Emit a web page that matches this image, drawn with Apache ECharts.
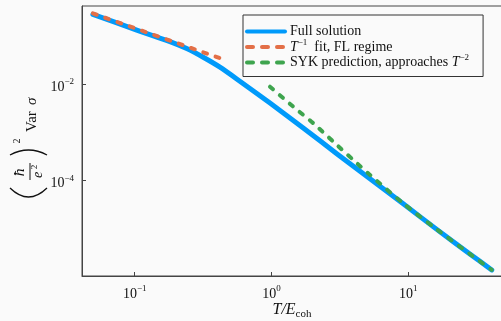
<!DOCTYPE html>
<html><head><meta charset="utf-8">
<script src="https://cdn.jsdelivr.net/npm/echarts@6/dist/echarts.min.js"></script>
<style>html,body{margin:0;padding:0;background:#fafafa}#c{width:501px;height:321px}</style>
</head><body><div id="c"></div><script>
// Data (linear units)
const fullT = [0.0495, 0.1, 0.181, 0.24, 0.317, 0.417, 0.557, 0.975, 1.706, 3.0, 5.248, 9.18, 16.14, 28.18, 40.74];
const fullV = [0.282, 0.138, 0.0766, 0.055, 0.0363, 0.0229, 0.0129, 0.00407, 0.001245, 3.63e-4, 1.096e-4, 3.31e-5, 9.77e-6, 3.02e-6, 1.41e-6];
const flT = [0.0495, 0.1, 0.2, 0.457];
const flV = [0.295, 0.146, 0.073, 0.032];
const sykT = [0.975, 1.442, 2.023, 2.831, 3.963, 5.248, 9.18, 16.14, 28.18, 40.74];
const sykV = [0.00891, 0.00343, 0.00155, 6.44e-4, 2.69e-4, 1.318e-4, 3.39e-5, 9.77e-6, 3.02e-6, 1.41e-6];
const xTicks = [0.1, 1, 10];
const yTicks = [1e-4, 1e-2];
const xRange = [0.0412, 48.4];
const yRange = [1.054e-6, 0.4207];
const names = ['Full solution', 'T^-1 fit, FL regime', 'SYK prediction, approaches T^-2'];

const lg = Math.log10;
const pairs = (T, V) => T.map((t, i) => [lg(t), lg(V[i])]);
const serif = 'Liberation Serif';
const supFmt = v => '{b|10}{s|' + String(Math.round(v)).replace('-', '\u2212') + '}';
const labelRich = {
  b: {fontFamily: serif, fontSize: 14, color: '#111'},
  s: {fontFamily: serif, fontSize: 9, color: '#111', padding: [0, 0, 11, 0]}
};
const hidden = {color: 'rgba(0,0,0,0)', borderColor: 'rgba(0,0,0,0)', borderWidth: 0, opacity: 0};

const chart = echarts.init(document.getElementById('c'), null, {renderer: 'canvas'});
chart.setOption({
  backgroundColor: '#fafafa',
  animation: false,
  grid: {left: 82, top: 6, right: -1, bottom: 45, show: true, borderColor: '#444', borderWidth: 1,
         containLabel: false, outerBoundsMode: 'none'},
  xAxis: {
    type: 'value', min: lg(xRange[0]), max: lg(xRange[1]),
    axisLine: {show: true, onZero: false, lineStyle: {color: '#444', width: 1}},
    axisTick: {show: true, inside: true, length: 4, customValues: xTicks.map(lg), lineStyle: {color: '#444'}},
    axisLabel: {customValues: xTicks.map(lg), formatter: supFmt, margin: 8, rich: labelRich},
    splitLine: {show: false},
    name: '{i|T/E}{sub|coh}', nameLocation: 'middle', nameGap: 23, nameMoveOverlap: false,
    nameTextStyle: {rich: {
      i: {fontFamily: serif, fontStyle: 'italic', fontSize: 16, color: '#111'},
      sub: {fontFamily: serif, fontSize: 11, color: '#111', padding: [10, 0, 0, 0]}
    }}
  },
  yAxis: {
    type: 'value', min: lg(yRange[0]), max: lg(yRange[1]),
    axisLine: {show: true, onZero: false, lineStyle: {color: '#444', width: 1}},
    axisTick: {show: true, inside: true, length: 4, customValues: yTicks.map(lg), lineStyle: {color: '#444'}},
    axisLabel: {customValues: yTicks.map(lg), formatter: supFmt, margin: 8, padding: [6, 0, 0, 0], rich: labelRich},
    splitLine: {show: false}
  },
  legend: {
    orient: 'vertical', left: 243, top: 15, padding: [7.5, 14, 5, 2], itemGap: -2.5,
    itemWidth: 38, itemHeight: 14, borderColor: '#333', borderWidth: 1, backgroundColor: '#fafafa',
    itemStyle: hidden,
    textStyle: {fontFamily: serif, fontSize: 14, lineHeight: 18, color: '#111', rich: {
      i: {fontFamily: serif, fontStyle: 'italic', fontSize: 14, color: '#111'},
      s: {fontFamily: serif, fontSize: 9, lineHeight: 9, color: '#111', padding: [0, 0, 9, 0]}
    }},
    formatter: n => n === names[1] ? '{i|T}{s|\u22121}  fit, FL regime'
                 : n === names[2] ? 'SYK prediction, approaches {i|T}{s|\u22122}' : n,
    data: [
      {name: names[0], itemStyle: hidden, lineStyle: {width: 4, cap: 'round'}},
      {name: names[1], itemStyle: hidden, lineStyle: {width: 4, type: [6, 9], cap: 'round'}},
      {name: names[2], itemStyle: hidden, lineStyle: {width: 4, type: [6, 9], cap: 'round'}}
    ]
  },
  series: [
    {name: names[0], type: 'line', data: pairs(fullT, fullV), symbol: 'none', smooth: 0.25, z: 1,
     color: '#009AFA', lineStyle: {color: '#009AFA', width: 5, cap: 'round', join: 'round'}},
    {name: names[1], type: 'line', data: pairs(flT, flV), symbol: 'none', z: 3,
     color: '#E36F47', lineStyle: {color: '#E36F47', width: 4, type: [4, 9], cap: 'round'}},
    {name: names[2], type: 'line', data: pairs(sykT, sykV), symbol: 'none', smooth: 0.25, z: 3,
     color: '#3EA44E', lineStyle: {color: '#3EA44E', width: 4, type: [4, 9], cap: 'round', join: 'round'}}
  ],
  graphic: [{
    type: 'group', x: 28, y: 142, rotation: Math.PI / 2, silent: true,
    children: [
      {type: 'bezierCurve', shape: {x1: -46, y1: -18, x2: -46, y2: 19, cpx1: -64, cpy1: 0.5}, style: {stroke: '#111', lineWidth: 1.3, fill: null}},
      {type: 'bezierCurve', shape: {x1: -13, y1: -18, x2: -13, y2: 19, cpx1: -3, cpy1: 0.5}, style: {stroke: '#111', lineWidth: 1.3, fill: null}},
      {type: 'text', x: -30, y: -7, style: {text: '\u0127', font: 'italic 13px "DejaVu Serif"', fill: '#111', align: 'center', verticalAlign: 'middle'}},
      {type: 'line', shape: {x1: -38, y1: 2, x2: -21, y2: 2}, style: {stroke: '#111', lineWidth: 1}},
      {type: 'text', x: -33, y: 10, style: {text: 'e', font: 'italic 14px "Liberation Serif"', fill: '#111', align: 'center', verticalAlign: 'middle'}},
      {type: 'text', x: -25, y: 7, style: {text: '2', font: '9px "Liberation Serif"', fill: '#111', align: 'center', verticalAlign: 'middle'}},
      {type: 'text', x: 1, y: -11, style: {text: '2', font: '10px "Liberation Serif"', fill: '#111', align: 'center', verticalAlign: 'middle'}},
      {type: 'text', x: 10, y: 4, style: {text: 'Var', font: '15px "Liberation Serif"', fill: '#111', align: 'left', verticalAlign: 'middle'}},
      {type: 'text', x: 37, y: 4, style: {text: '\u03c3', font: 'italic 15px "Liberation Serif"', fill: '#111', align: 'left', verticalAlign: 'middle'}}
    ]
  }]
});
</script></body></html>
